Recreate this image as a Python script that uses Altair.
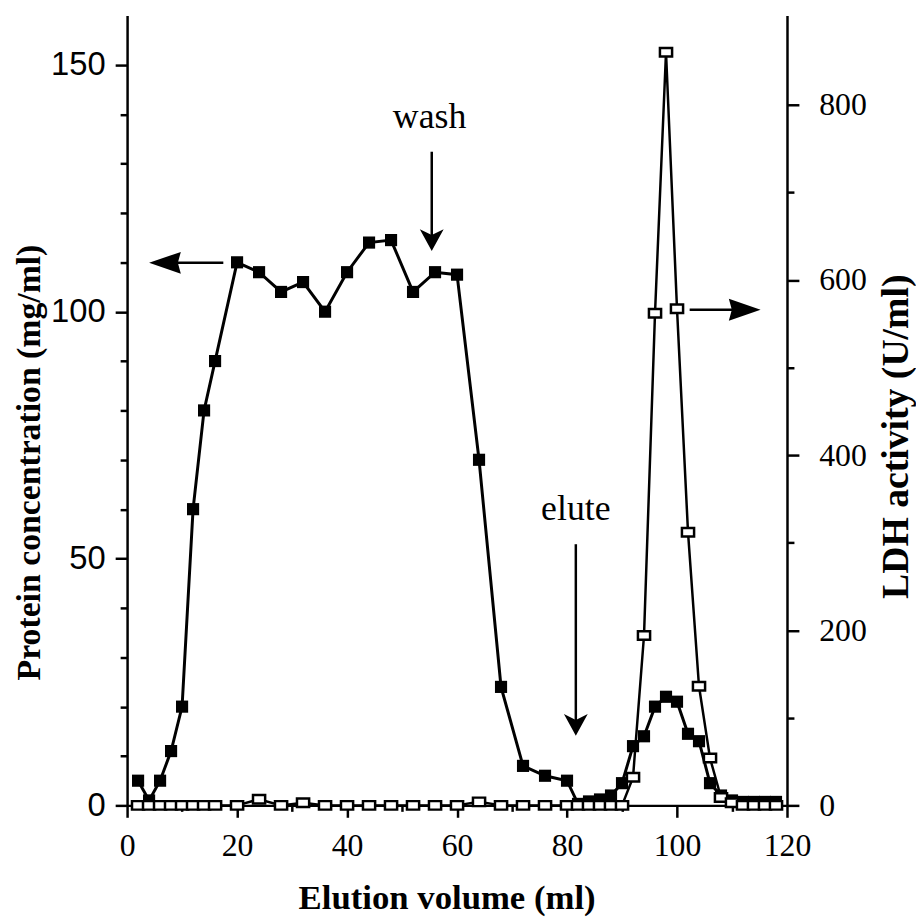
import altair as alt
import pandas as pd

# ---- data ----
volume = [2, 4, 6, 8, 10, 12, 14, 16, 20, 24, 28, 32, 36, 40, 44, 48, 52, 56, 60,
          64, 68, 72, 76, 80, 82, 84, 86, 88, 90, 92, 94, 96, 98, 100, 102, 104,
          106, 108, 110, 112, 114, 116, 118]
protein = [5, 1, 5, 11, 20, 60, 80, 90, 110, 108, 104, 106, 100, 108, 114, 114.5,
           104, 108, 107.5, 70, 24, 8, 6, 5, 0.3, 0.8, 1.2, 2, 4.5, 12, 14, 20, 22,
           21, 14.5, 13, 4.5, 2, 1, 0.7, 0.7, 0.7, 0.7]
ldh = [0, 0, 0, 0, 0, 0, 0, 0, 0, 7, 0, 3, 0, 0, 0, 0, 0, 0, 0, 4, 0, 0, 0, 0, 0,
       0, 0, 0, 0, 32, 194, 562, 860, 567, 312, 136, 54, 9, 3, 0, 0, 0, 0]

# annotation arrows (in elution volume / protein units)
shaft_x1 = [55.4, 81.6, 17.5, 102.3]
shaft_y1 = [132.4, 52.9, 109.9, 100.4]
shaft_x2 = [55.4, 81.6, 6.7, 112.5]
shaft_y2 = [114.3, 16.1, 109.9, 100.4]
down_head_x = [55.4, 81.6]
down_head_y = [112.3, 14.1]
left_head_x = [4.0]
left_head_y = [109.9]
right_head_x = [115.2]
right_head_y = [100.4]
label_text = ["wash", "elute"]
label_x = [55.0, 81.6]
label_y = [137.2, 57.9]

x_ticks = list(range(0, 121, 10))
left_ticks = list(range(0, 151, 10))
right_ticks = list(range(0, 801, 100))

df = pd.DataFrame({"volume": volume, "protein": protein, "ldh": ldh})
shafts = pd.DataFrame({"volume": shaft_x1, "protein": shaft_y1,
                       "volume2": shaft_x2, "protein2": shaft_y2})
down_heads = pd.DataFrame({"volume": down_head_x, "protein": down_head_y})
left_heads = pd.DataFrame({"volume": left_head_x, "protein": left_head_y})
right_heads = pd.DataFrame({"volume": right_head_x, "protein": right_head_y})
labels = pd.DataFrame({"volume": label_x, "protein": label_y, "text": label_text})

W, H = 665, 796
SERIF = "Liberation Serif"
SANS = "Liberation Sans"


def tick_cond(step, major, minor):
    return {"condition": {"test": f"datum.value % {step} === 0", "value": major},
            "value": minor}


x_axis = alt.Axis(
    values=x_ticks, labelExpr="datum.value % 20 === 0 ? datum.label : ''",
    tickSize=tick_cond(20, 12, 6), tickWidth=2.5, tickColor="black",
    domainColor="black", domainWidth=2.5, grid=False,
    labelFont=SERIF, labelFontSize=32, labelColor="black", labelPadding=14,
    labelFlush=False,
    title="Elution volume (ml)", titleFont=SERIF, titleFontWeight="bold",
    titleFontSize=35, titleColor="black", titleX=322, titleY=104,
    titleBaseline="alphabetic", titleAlign="center")

left_axis = alt.Axis(
    orient="left", values=left_ticks,
    labelExpr="datum.value % 50 === 0 ? datum.label : ''",
    tickSize=tick_cond(50, 12, 7), tickWidth=2.5, tickColor="black",
    domainColor="black", domainWidth=2.5, grid=False,
    labelFont=SANS, labelFontSize=33, labelColor="black", labelPadding=10,
    labelFlush=False,
    title="Protein concentration (mg/ml)", titleFont=SERIF,
    titleFontWeight="bold", titleFontSize=34, titleColor="black",
    titleAngle=270, titleX=-98, titleY=450, titleBaseline="middle",
    titleAlign="center")

right_axis = alt.Axis(
    orient="right", values=right_ticks,
    labelExpr="datum.value % 200 === 0 ? datum.label : ''",
    tickSize=tick_cond(200, 12, 7), tickWidth=2.5, tickColor="black",
    domainColor="black", domainWidth=2.5, grid=False,
    labelFont=SERIF, labelFontSize=32, labelColor="black", labelPadding=20,
    labelFlush=False,
    title="LDH activity (U/ml)", titleFont=SERIF, titleFontWeight="bold",
    titleFontSize=38, titleColor="black", titleAngle=270, titleX=110,
    titleY=424, titleBaseline="middle", titleAlign="center")

xs = alt.Scale(domain=[0, 120], nice=False, zero=False)
yls = alt.Scale(domain=[0, 160], nice=False)
yrs = alt.Scale(domain=[0, 902], nice=False)

X = alt.X("volume:Q", scale=xs, axis=x_axis)
YL = alt.Y("protein:Q", scale=yls, axis=left_axis)
YR = alt.Y("ldh:Q", scale=yrs, axis=right_axis)

protein_line = alt.Chart(df).mark_line(color="black", strokeWidth=3).encode(
    x=X, y=YL, order="volume:Q")
protein_pts = alt.Chart(df).mark_point(
    shape="square", filled=True, color="black", size=150, opacity=1).encode(x=X, y=YL)

shaft_layer = alt.Chart(shafts).mark_rule(color="black", strokeWidth=2.5).encode(
    x=X, y=YL, x2="volume2:Q", y2="protein2:Q")
down_layer = alt.Chart(down_heads).mark_point(
    shape="M0,0L-1.2,-2.2L0,-1.6L1.2,-2.2Z", filled=True, color="black",
    size=400, opacity=1).encode(x=X, y=YL)
left_layer_h = alt.Chart(left_heads).mark_point(
    shape="M0,0L3.2,-1.1L2.9,0L3.2,1.1Z", filled=True, color="black",
    size=400, opacity=1).encode(x=X, y=YL)
right_layer_h = alt.Chart(right_heads).mark_point(
    shape="M0,0L-3.2,-1.1L-2.9,0L-3.2,1.1Z", filled=True, color="black",
    size=400, opacity=1).encode(x=X, y=YL)
text_layer = alt.Chart(labels).mark_text(
    font=SERIF, fontSize=36, color="black", baseline="alphabetic",
    align="center").encode(x=X, y=YL, text="text:N")

left_group = alt.layer(shaft_layer, down_layer, left_layer_h, right_layer_h,
                       text_layer, protein_line, protein_pts)

ldh_line = alt.Chart(df).mark_line(color="black", strokeWidth=2.5).encode(
    x=X, y=YR, order="volume:Q")
ldh_pts = alt.Chart(df).mark_point(
    shape="M-1,-0.7L1,-0.7L1,0.7L-1,0.7Z", filled=True, fill="white",
    stroke="black", strokeWidth=2.5, size=150, opacity=1).encode(x=X, y=YR)
right_group = alt.layer(ldh_line, ldh_pts)

chart = alt.layer(left_group, right_group).resolve_scale(y="independent").properties(
    width=W, height=H,
    autosize=alt.AutoSizeParams(type="none"),
    padding={"left": 120, "top": 4, "right": 130, "bottom": 115},
    background="white",
).configure_view(stroke=None)

chart.save("out.html", embed_options={"renderer": "svg", "actions": False})
